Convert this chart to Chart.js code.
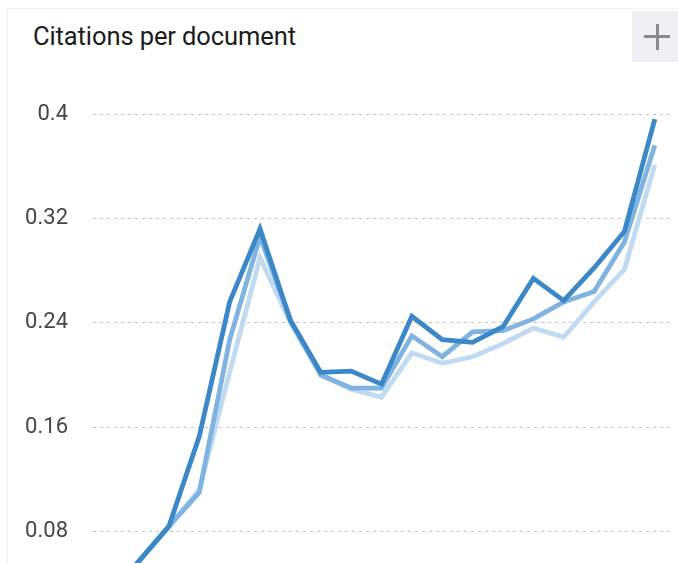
<!DOCTYPE html>
<html>
<head>
<meta charset="utf-8">
<script src="https://cdn.jsdelivr.net/npm/chart.js@4.4.0/dist/chart.umd.min.js"></script>
<style>
  html, body { margin: 0; padding: 0; background: #fff; overflow: hidden; }
  body { width: 678px; height: 563px; position: relative; font-family: Roboto, sans-serif; }
  .card { position: absolute; left: 7px; top: 8px; width: 700px; height: 700px; border-left: 1px solid #eeeeee; border-top: 1px solid #f2f2f2; }
  .title { position: absolute; left: 33px; top: 21px; font-size: 25.5px; color: #1c1c1c; letter-spacing: -0.1px; }
  .plus { position: absolute; left: 632px; top: 11px; width: 46px; height: 51px; background: #f0f0f4; }
  .plus:before, .plus:after { content: ""; position: absolute; background: #8a8a8a; }
  .plus:before { left: 12px; top: 24px; width: 26px; height: 3px; }
  .plus:after { left: 23.5px; top: 13px; width: 3px; height: 26px; }
  #wrap { position: absolute; left: 0; top: 0; width: 678px; height: 676px; }
</style>
</head>
<body>
<div class="card"></div>
<div class="title">Citations per document</div>
<div class="plus"></div>
<div id="wrap"><canvas id="myChart"></canvas></div>
<script>
// data (first two points sit below the visible frame)
const years = ['2000', '2001', '2002', '2003', '2004', '2005', '2006', '2007', '2008', '2009',
    '2010', '2011', '2012', '2013', '2014', '2015', '2016', '2017', '2018'];

const darkValues = [0.030, 0.057, 0.084, 0.153, 0.256, 0.312, 0.242, 0.202, 0.203, 0.193,
    0.245, 0.227, 0.225, 0.237, 0.274, 0.257, 0.282, 0.310, 0.396];
const midValues = [0.030, 0.057, 0.084, 0.110, 0.227, 0.306, 0.242, 0.200, 0.190, 0.190,
    0.230, 0.214, 0.233, 0.234, 0.243, 0.256, 0.264, 0.302, 0.376];
const lightValues = [0.030, 0.057, 0.084, 0.112, 0.202, 0.290, 0.240, 0.200, 0.189, 0.183,
    0.217, 0.209, 0.214, 0.224, 0.236, 0.229, 0.256, 0.281, 0.361];

const yTicks = [0, 0.08, 0.16, 0.24, 0.32, 0.4];

const ctx = document.getElementById('myChart').getContext('2d');

const line = (values, color) => ({
    data: values,
    borderColor: color,
    borderWidth: 4.8,
    pointRadius: 0,
    tension: 0,
    fill: false,
});

const myChart = new Chart(ctx, {
    type: 'line',
    data: {
        labels: years,
        datasets: [
            line(darkValues, '#3b87c8'),
            line(midValues, '#7fb3e1'),
            line(lightValues, '#c0daf1'),
        ],
    },
    options: {
        responsive: true,
        maintainAspectRatio: false,
        animation: false,
        layout: { padding: { top: 114, right: 8, left: 0, bottom: 0 } },
        plugins: { legend: { display: false }, tooltip: { enabled: false } },
        scales: {
            x: {
                offset: true,
                grid: { display: false },
                border: { display: false },
                ticks: { color: '#555', font: { family: 'Roboto', size: 18 } },
                afterFit: (scale) => { scale.height = 40; },
            },
            y: {
                min: 0,
                max: 0.4,
                afterBuildTicks: (scale) => { scale.ticks = yTicks.map(v => ({ value: v })); },
                grid: { color: '#c4c4c4', lineWidth: 1, drawTicks: false },
                border: { display: false, dash: [3, 4] },
                ticks: {
                    padding: 25,
                    color: '#464646',
                    font: { family: 'Roboto', size: 22 },
                    callback: (v) => String(v),
                },
                afterFit: (scale) => { scale.width = 93; },
            },
        },
    },
});
</script>
</body>
</html>
